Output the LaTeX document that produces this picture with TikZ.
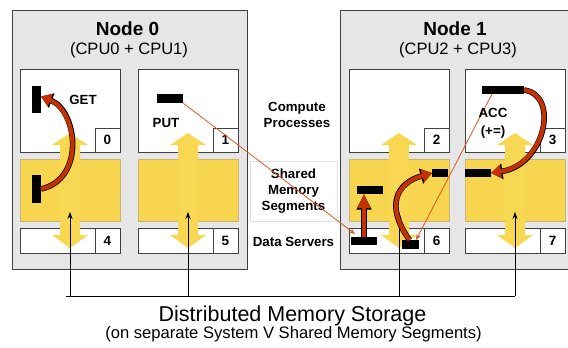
\documentclass[tikz,border=0pt]{standalone}
\usepackage{fontspec}
\setmainfont{Liberation Sans}
\usetikzlibrary{arrows.meta,calc}
\definecolor{nodegray}{RGB}{230,230,230}
\definecolor{edgegray}{RGB}{64,64,64}
\definecolor{yel}{RGB}{247,213,78}
\definecolor{yelarrow}{RGB}{248,215,82}
\definecolor{yeledge}{RGB}{200,180,120}
\definecolor{redfill}{RGB}{196,50,4}
\definecolor{redline}{RGB}{222,86,34}
\begin{document}
\begin{tikzpicture}[x=1pt,y=-1pt,
  nodebox/.style={draw=edgegray, fill=nodegray, line width=0.8pt, anchor=north west, inner sep=0pt, outer sep=0pt},
  whitebox/.style={draw=edgegray, fill=white, line width=0.8pt, anchor=north west, inner sep=0pt, outer sep=0pt},
  yelbox/.style={draw=yeledge, fill=yel, line width=0.5pt, anchor=north west, inner sep=0pt, outer sep=0pt, minimum width=100pt, minimum height=62pt},
  numbox/.style={whitebox, minimum width=25pt, font=\fontsize{13.5}{15}\selectfont\bfseries},
  bar/.style={fill=black, inner sep=0pt, outer sep=0pt},
  titlefont/.style={font=\fontsize{19}{21}\selectfont\bfseries, inner sep=0pt},
  cpufont/.style={font=\fontsize{16.5}{19}\selectfont, inner sep=0pt},
  lbl/.style={font=\fontsize{13.3}{16}\selectfont\bfseries, align=center, inner sep=0pt},
  redcurve/.style={draw=redfill, line width=4.2pt, -{Triangle[width=13pt,length=10pt]},
    preaction={draw=black, line width=5.6pt, -{Triangle[width=15pt,length=11.5pt]}}},
  redstraight/.style={draw=redfill, line width=4.5pt, -{Triangle[width=12pt,length=14pt]},
    preaction={draw=black, line width=5.7pt, -{Triangle[width=14pt,length=15.5pt]}}},
  thinred/.style={draw=redline, line width=0.8pt, -{Stealth[length=6pt,width=4.5pt]}},
  busline/.style={draw=black, line width=0.7pt},
  busarrow/.style={busline, -{Stealth[length=7pt,width=5pt]}}
]
\useasboundingbox (0,0) rectangle (568,348);

% node frames
\node[nodebox, minimum width=235pt, minimum height=259pt] (node0) at (12,10) {};
\node[nodebox, minimum width=235pt, minimum height=259pt] (node1) at (340,10) {};
\node[titlefont] (t0) at (127.5,29) {Node 0};
\node[cpufont] (c0) at (129,50) {(CPU0 + CPU1)};
\node[titlefont] (t1) at (455,29) {Node 1};
\node[cpufont] (c1) at (458,50) {(CPU2 + CPU3)};

% columns
\foreach \c/\x/\pn/\dn in {0/20/0/4,1/138/1/5,2/349/2/6,3/465/3/7}{
  \node[whitebox, minimum width=100pt, minimum height=83pt] (proc\c) at (\x,69) {};
  \node[numbox, minimum height=24pt] (pnum\c) at (\x+75,128) {\pn};
  \node[yelbox] (seg\c) at (\x,159) {};
  \node[whitebox, minimum width=100pt, minimum height=25pt] (data\c) at (\x,228) {};
  \node[numbox, minimum height=25pt] (dnum\c) at (\x+75,228) {\dn};
  \pgfmathsetmacro\xc{\x+50}
  \fill[yelarrow] (\xc,133) -- (\xc+18,145) -- (\xc+10,145) -- (\xc+10,235) -- (\xc+18,235)
     -- (\xc,248) -- (\xc-18,235) -- (\xc-10,235) -- (\xc-10,145) -- (\xc-18,145) -- cycle;
  \coordinate (bus\c) at (\xc,296);
  \coordinate (tip\c) at (\xc,212);
}

% middle labels
\node[lbl] (lcomp) at (297,115) {Compute\\Processes};
\node[lbl, draw=black!12, line width=0.5pt, minimum width=87pt, minimum height=60pt] (lshared) at (293.5,191) {Shared\\Memory\\Segments};
\node[lbl] (ldata) at (293.5,242) {Data Servers};

% storage bus
\coordinate (busL) at (66,296);
\draw[busline] (busL) -- (bus3);
\foreach \c in {0,1,2,3}{ \draw[busarrow] (bus\c) -- (tip\c); }

% black bars
\node[bar, minimum width=9pt, minimum height=27pt] (g0t) at (36.5,99.5) {};
\node[bar, minimum width=9pt, minimum height=28pt] (g0b) at (36.5,189) {};
\node[bar, minimum width=26pt, minimum height=9pt] (put) at (170,98.5) {};
\node[bar, minimum width=26pt, minimum height=8pt] (m6) at (370,190) {};
\node[bar, minimum width=26pt, minimum height=8pt] (b6l) at (364,241) {};
\node[bar, minimum width=17pt, minimum height=9pt] (b6r) at (410.5,244.5) {};
\node[bar, minimum width=16pt, minimum height=8pt] (r6) at (440,173) {};
\node[bar, minimum width=26pt, minimum height=8pt] (l7) at (478,173) {};
\node[bar, minimum width=42pt, minimum height=8pt] (acc) at (503,90) {};

% red arrows
\draw[redcurve] (g0b.east) .. controls +(45,-10) and +(36,14) .. ([yshift=3pt]g0t.east);
\draw[redcurve] ([xshift=-1pt]b6r.north) .. controls +(-25,-35) and +(-35,10) .. (r6.west);
\draw[redcurve] (acc.east) .. controls +(36,5) and +(54,-8) .. (l7.east);
\draw[redstraight] (b6l.north) -- (b6l.north |- m6.south);

% thin red lines
\draw[thinred] (put.south east) -- ([shift={(4pt,3pt)}]b6l.north west);
\draw[thinred] ([xshift=10pt]acc.south west) -- ([xshift=-3pt]b6r.north east);

% operation labels
\node[lbl] (lget) at (83,100) {GET};
\node[lbl] (lput) at (166,123) {PUT};
\node[lbl] (lacc) at (493,113) {ACC};
\node[lbl] (lpe) at (493,132) {(+=)};

% bottom caption
\node[font=\fontsize{21.5}{24}\selectfont, inner sep=0pt] (cap1) at (292.5,316) {Distributed Memory Storage};
\node[font=\fontsize{16.6}{19}\selectfont, inner sep=0pt] (cap2) at (293.5,334) {(on separate System V Shared Memory Segments)};
\end{tikzpicture}
\end{document}
